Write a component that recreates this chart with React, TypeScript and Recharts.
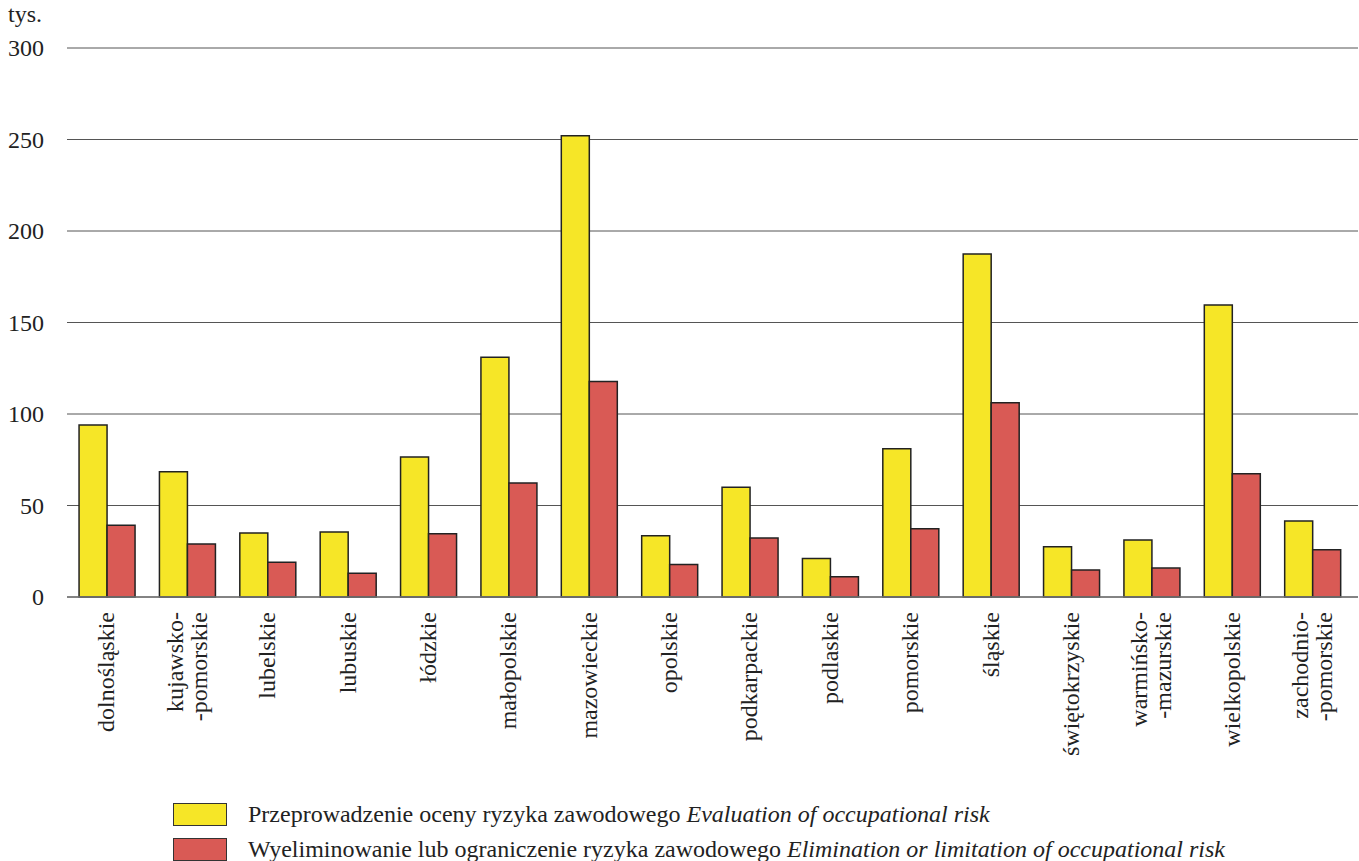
import React from "react";
import { BarChart, Bar, CartesianGrid, XAxis, YAxis } from "recharts";

const regions = [
  "dolnośląskie",
  "kujawsko-\n-pomorskie",
  "lubelskie",
  "lubuskie",
  "łódzkie",
  "małopolskie",
  "mazowieckie",
  "opolskie",
  "podkarpackie",
  "podlaskie",
  "pomorskie",
  "śląskie",
  "świętokrzyskie",
  "warmińsko-\n-mazurskie",
  "wielkopolskie",
  "zachodnio-\n-pomorskie",
];

const evaluation = [94, 68.5, 35, 35.5, 76.5, 131, 252, 33.5, 60, 21, 81, 187.5, 27.5, 31.2, 159.5, 41.5];
const elimination = [39.2, 29, 19, 13, 34.5, 62.3, 117.7, 17.7, 32.3, 11, 37.3, 106.2, 14.8, 15.8, 67.3, 25.8];

const yTicks = [0, 50, 100, 150, 200, 250, 300];

const legendItems = [
  { key: "evaluation", color: "#F6E627", pl: "Przeprowadzenie oceny ryzyka zawodowego", en: "Evaluation of occupational risk" },
  { key: "elimination", color: "#D95A55", pl: "Wyeliminowanie lub ograniczenie ryzyka zawodowego", en: "Elimination or limitation of occupational risk" },
];

const data = regions.map((name, i) => ({
  name,
  evaluation: evaluation[i],
  elimination: elimination[i],
}));

const font = "'Times New Roman', 'Liberation Serif', Times, serif";

const XTick = ({ x, y, payload }: any) => {
  const lines = String(payload.value).split("\n");
  const lineH = 24;
  const fs = 24;
  return (
    <g transform={`translate(${x},${y})`}>
      <text transform="rotate(-90)" textAnchor="end" fontFamily={font} fontSize={fs} fill="#222">
        {lines.map((l, i) => (
          <tspan key={i} x={0} y={(i - (lines.length - 1) / 2) * lineH + fs * 0.3}>
            {l}
          </tspan>
        ))}
      </text>
    </g>
  );
};

const YTick = ({ y, payload }: any) => (
  <text x={44} y={y} textAnchor="end" dominantBaseline="central" fontFamily={font} fontSize={24} fill="#222">
    {payload.value}
  </text>
);

export default function App() {
  return (
    <div style={{ position: "absolute", left: 0, top: 0, width: 1359, height: 861, background: "#fff", fontFamily: font }}>
      <span style={{ position: "absolute", left: 8, top: 1, fontSize: 24, color: "#222" }}>tys.</span>
      <BarChart
        width={1359}
        height={800}
        data={data}
        margin={{ top: 48, right: 1, left: 0, bottom: 0 }}
        barGap={0}
        barCategoryGap="15%"
      >
        <CartesianGrid vertical={false} stroke="#555" strokeWidth={1} />
        <XAxis
          dataKey="name"
          interval={0}
          height={203}
          padding={{ left: 0, right: 5 }}
          tickLine={false}
          tickSize={0}
          tickMargin={15}
          axisLine={{ stroke: "#777", strokeWidth: 1.5 }}
          tick={<XTick />}
        />
        <YAxis
          width={67}
          domain={[0, 300]}
          ticks={yTicks}
          axisLine={false}
          tickLine={false}
          tick={<YTick />}
        />
        <Bar dataKey="evaluation" fill="#F6E627" stroke="#222" strokeWidth={1.5} isAnimationActive={false} />
        <Bar dataKey="elimination" fill="#D95A55" stroke="#222" strokeWidth={1.5} isAnimationActive={false} />
      </BarChart>
      {legendItems.map((it, i) => (
        <div
          key={it.key}
          style={{ position: "absolute", left: 173, top: 803 + i * 35, height: 23, display: "flex", alignItems: "center" }}
        >
          <span
            style={{
              width: 52,
              height: 21,
              background: it.color,
              border: "1.5px solid #333",
              display: "inline-block",
              marginRight: 21,
            }}
          />
          <span style={{ fontSize: 24, color: "#222", whiteSpace: "nowrap" }}>
            {it.pl} <i>{it.en}</i>
          </span>
        </div>
      ))}
    </div>
  );
}
